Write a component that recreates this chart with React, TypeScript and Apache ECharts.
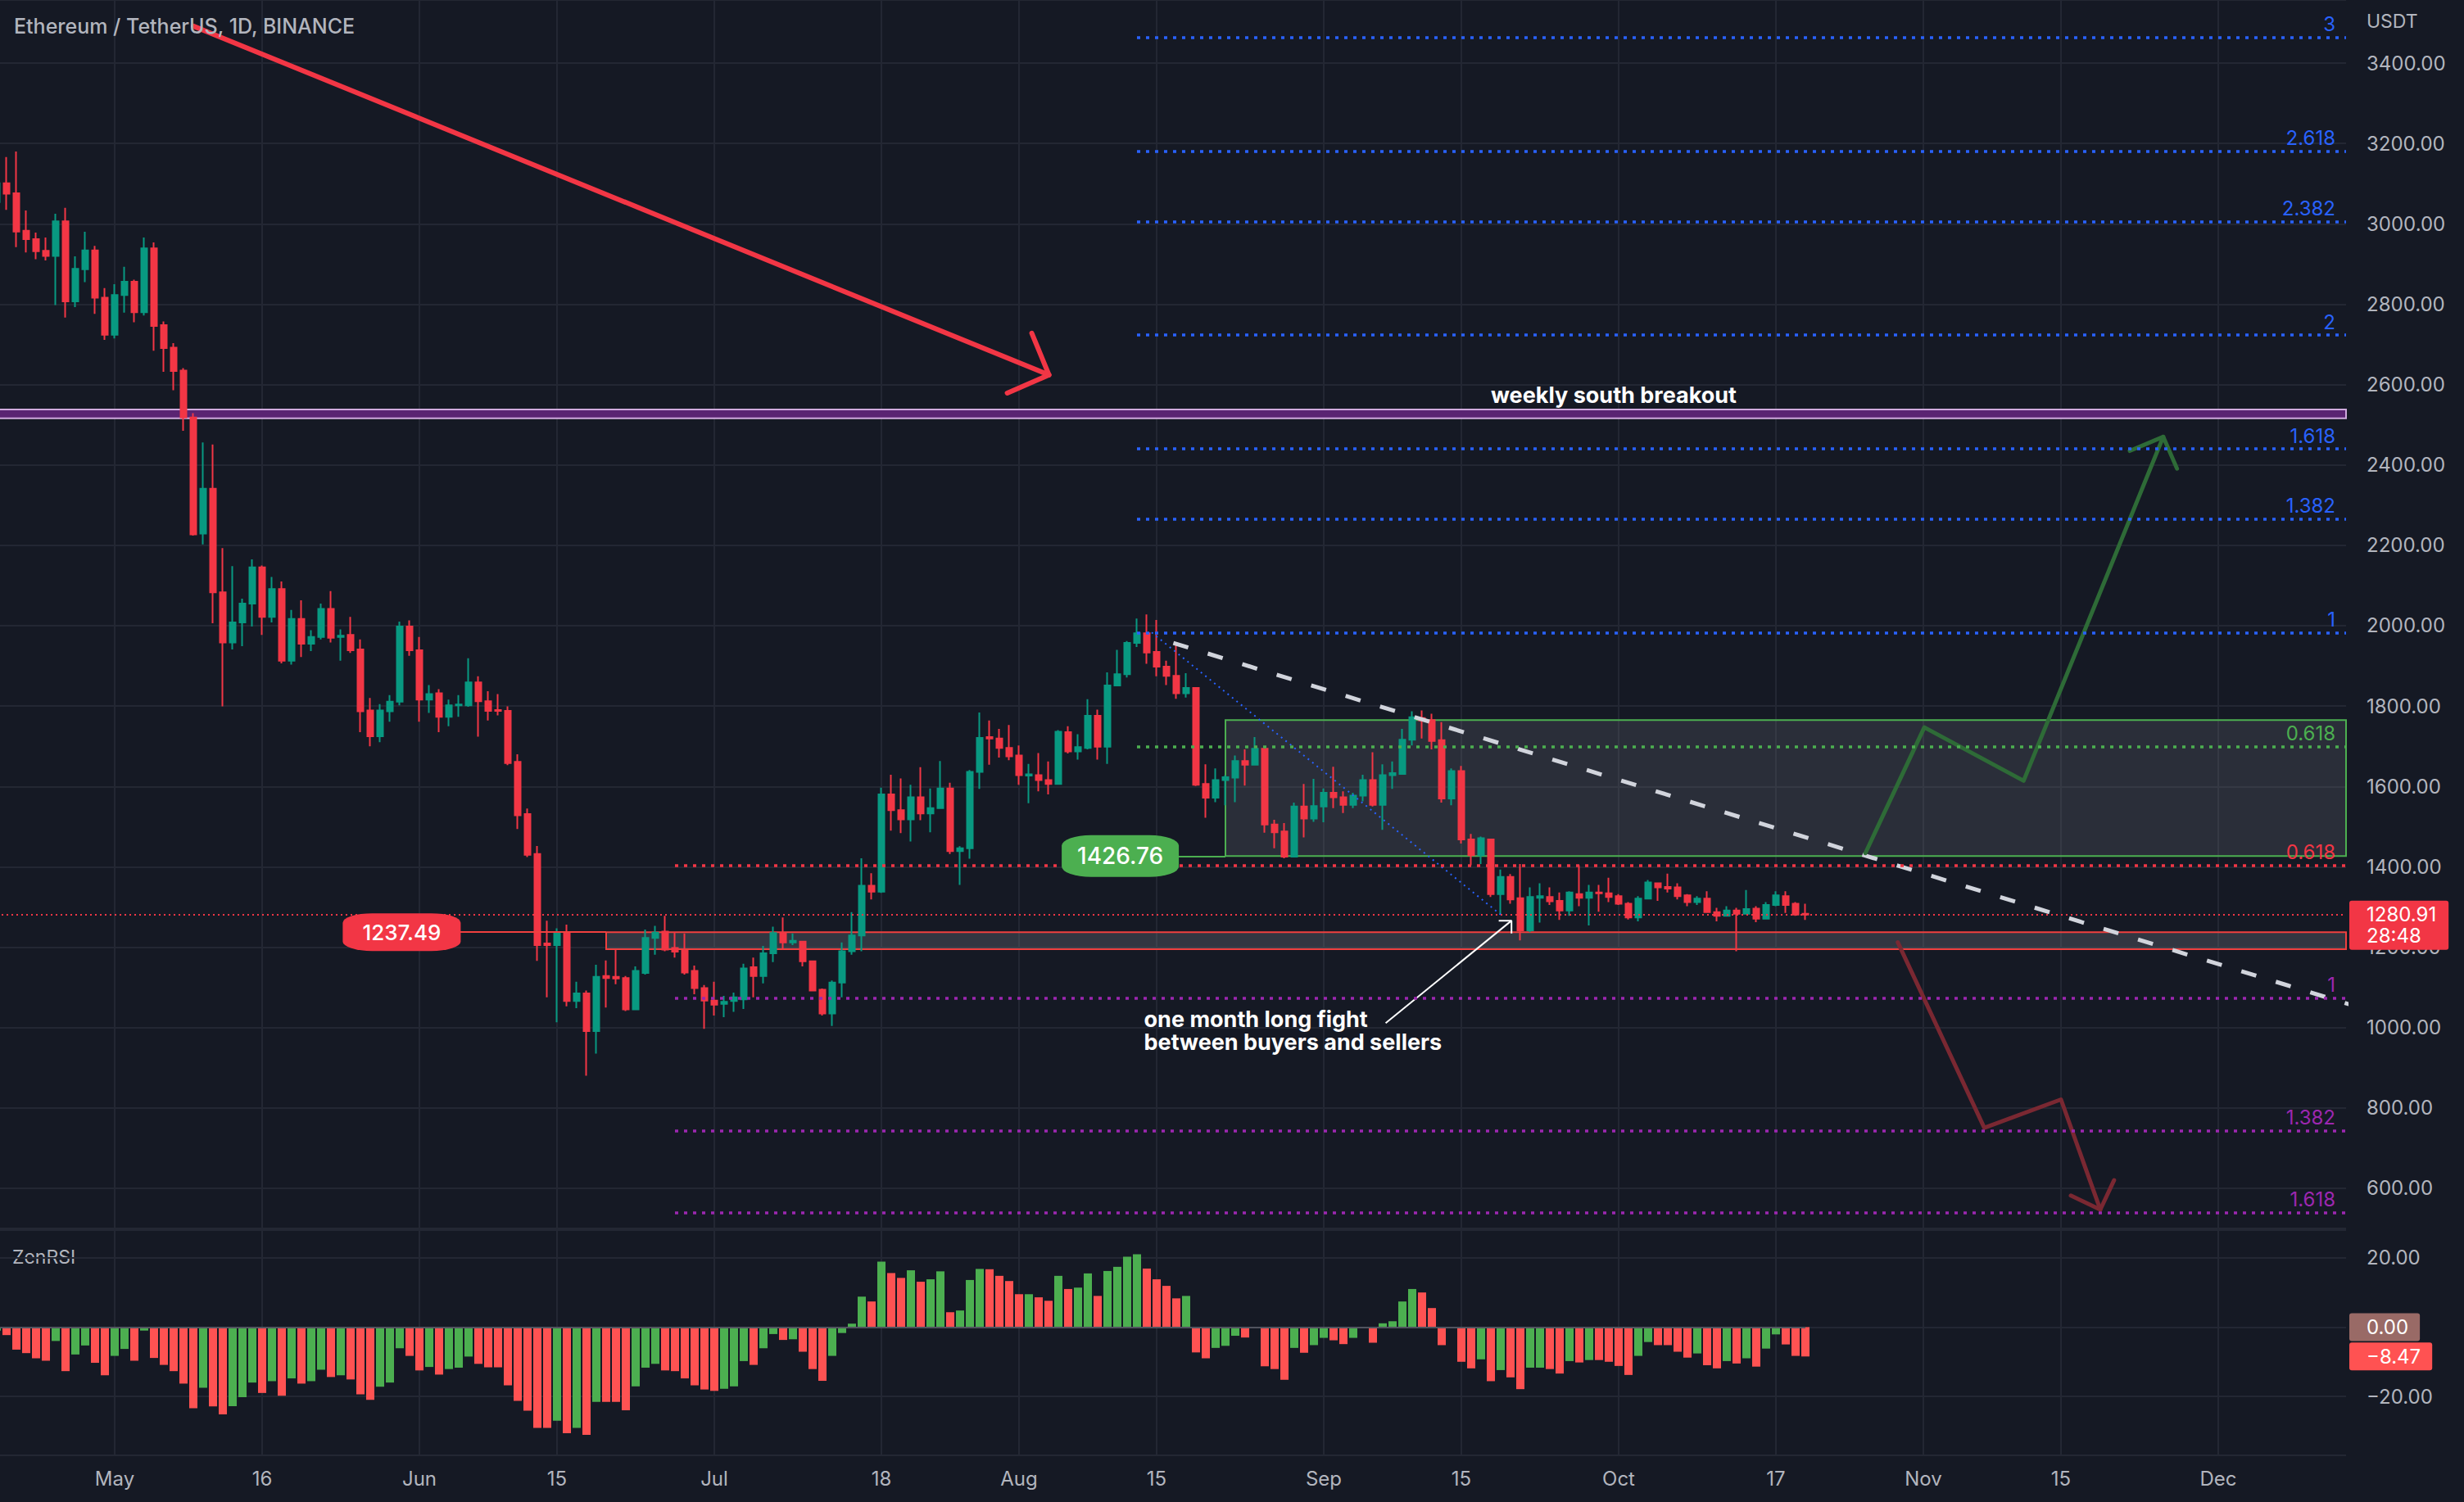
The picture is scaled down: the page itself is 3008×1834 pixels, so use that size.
import React, { useEffect, useRef } from "react";
import * as echarts from "echarts";

// ---------- data ----------
const firstCandleDate = "2022-04-19"; // day -12 relative to May 1
const openP = [
  3054, 3101, 3076, 2983, 2962, 2933, 2920, 3006, 2807, 2887, 2934, 2816,
  2724, 2823, 2856, 2780, 2939, 2748, 2692, 2635, 2518, 2229,
  2341, 2083, 1958, 2008, 2055, 2145, 2022, 2091, 1913, 2017,
  1955, 1972, 2042, 1972, 1977, 1941, 1789, 1725, 1787, 1811,
  1998, 1939, 1816, 1832, 1773, 1802, 1802, 1859, 1812, 1790,
  1788, 1661, 1531, 1432, 1209, 1205, 1235, 1066, 1085, 991,
  1128, 1126, 1123, 1045, 1136, 1223, 1239, 1198, 1191, 1141,
  1098, 1067, 1059, 1066, 1070, 1150, 1128, 1185, 1235, 1212,
  1214, 1165, 1094, 1035, 1112, 1190, 1229, 1353, 1338, 1580,
  1541, 1518, 1573, 1533, 1546, 1595, 1439, 1446, 1636, 1723,
  1719, 1696, 1677, 1627, 1628, 1616, 1606, 1735, 1687, 1696,
  1776, 1699, 1851, 1879, 1957, 1981, 1935, 1898, 1875, 1832,
  1845, 1606, 1572, 1616, 1622, 1663, 1654, 1694, 1505, 1488,
  1425, 1550, 1520, 1550, 1584, 1573, 1554, 1577, 1616, 1554,
  1628, 1631, 1716, 1770, 1765, 1715, 1570, 1638, 1468, 1429,
  1468, 1332, 1375, 1322, 1242, 1323, 1325, 1315, 1291, 1332,
  1323, 1336, 1334, 1327, 1308, 1274, 1321, 1359, 1350, 1349,
  1329, 1312, 1321, 1287, 1278, 1291, 1283, 1296, 1271, 1305,
  1327, 1308, 1283,
];
const closeP = [
  3101, 3075, 2981, 2962, 2932, 2920, 3006, 2807, 2888, 2934, 2816, 2724,
  2823, 2856, 2780, 2939, 2746, 2691, 2634, 2518, 2227, 2341,
  2083, 1958, 2008, 2055, 2145, 2022, 2091, 1913, 2017, 1955,
  1972, 2042, 1970, 1975, 1939, 1787, 1725, 1789, 1811, 1998,
  1939, 1816, 1830, 1773, 1802, 1804, 1859, 1812, 1788, 1788,
  1658, 1528, 1430, 1205, 1205, 1235, 1066, 1085, 991, 1126,
  1123, 1122, 1045, 1141, 1223, 1236, 1194, 1189, 1137, 1098,
  1067, 1057, 1064, 1075, 1147, 1128, 1185, 1235, 1212, 1216,
  1165, 1092, 1035, 1112, 1190, 1229, 1353, 1338, 1580, 1541,
  1518, 1573, 1533, 1546, 1595, 1439, 1446, 1636, 1721, 1719,
  1696, 1675, 1628, 1630, 1616, 1606, 1736, 1687, 1698, 1776,
  1699, 1851, 1879, 1957, 1981, 1933, 1898, 1875, 1832, 1845,
  1604, 1572, 1616, 1623, 1663, 1654, 1694, 1505, 1486, 1425,
  1550, 1520, 1551, 1584, 1573, 1554, 1577, 1616, 1554, 1628,
  1633, 1716, 1772, 1764, 1713, 1570, 1638, 1468, 1429, 1471,
  1332, 1375, 1319, 1242, 1325, 1327, 1314, 1291, 1336, 1323,
  1336, 1334, 1325, 1308, 1274, 1321, 1361, 1349, 1346, 1327,
  1312, 1321, 1287, 1278, 1291, 1283, 1295, 1271, 1305, 1329,
  1305, 1281, 1280.91,
];
const lowP = [
  3040, 3035, 2942, 2929, 2912, 2909, 2798, 2767, 2793, 2855, 2776, 2711,
  2715, 2779, 2755, 2772, 2684, 2632, 2586, 2485, 2224, 2202,
  2006, 1799, 1941, 1949, 1998, 1977, 2008, 1906, 1903, 1922,
  1937, 1966, 1958, 1913, 1932, 1735, 1700, 1710, 1761, 1802,
  1925, 1761, 1783, 1735, 1750, 1773, 1798, 1724, 1764, 1777,
  1653, 1494, 1424, 1166, 1075, 1013, 1053, 1048, 880, 935,
  1050, 1108, 1041, 1044, 1132, 1181, 1190, 1174, 1132, 1083,
  997, 1030, 1026, 1039, 1046, 1075, 1110, 1163, 1194, 1205,
  1152, 1091, 1030, 1004, 1075, 1181, 1190, 1319, 1335, 1490,
  1484, 1463, 1516, 1486, 1545, 1432, 1355, 1420, 1594, 1654,
  1672, 1665, 1604, 1558, 1588, 1580, 1604, 1682, 1667, 1692,
  1667, 1656, 1849, 1871, 1947, 1905, 1874, 1852, 1818, 1821,
  1601, 1522, 1561, 1553, 1561, 1602, 1652, 1485, 1446, 1421,
  1424, 1473, 1512, 1511, 1546, 1534, 1546, 1563, 1550, 1492,
  1594, 1629, 1702, 1719, 1692, 1560, 1553, 1458, 1404, 1407,
  1325, 1281, 1308, 1217, 1237, 1261, 1305, 1268, 1278, 1302,
  1254, 1288, 1312, 1305, 1269, 1264, 1319, 1315, 1336, 1319,
  1302, 1305, 1285, 1264, 1276, 1190, 1281, 1262, 1269, 1302,
  1285, 1278, 1268,
];
const highP = [
  3125, 3166, 3180, 3033, 2978, 2966, 3025, 3040, 2919, 2980, 2945, 2840,
  2850, 2893, 2861, 2966, 2954, 2757, 2703, 2641, 2529, 2456,
  2451, 2193, 2148, 2067, 2165, 2150, 2121, 2110, 2039, 2063,
  1989, 2055, 2086, 1991, 2022, 1966, 1820, 1805, 1827, 2010,
  2013, 1972, 1852, 1842, 1816, 1827, 1919, 1874, 1837, 1830,
  1799, 1680, 1545, 1452, 1266, 1247, 1256, 1114, 1092, 1156,
  1167, 1194, 1128, 1152, 1244, 1253, 1278, 1238, 1234, 1154,
  1106, 1114, 1079, 1087, 1159, 1174, 1203, 1251, 1274, 1234,
  1216, 1167, 1097, 1117, 1212, 1287, 1421, 1384, 1597, 1629,
  1620, 1604, 1648, 1595, 1663, 1609, 1451, 1641, 1784, 1764,
  1743, 1753, 1702, 1656, 1683, 1662, 1740, 1750, 1730, 1817,
  1791, 1884, 1940, 1962, 2018, 2028, 2014, 1913, 1955, 1882,
  1847, 1655, 1645, 1628, 1677, 1692, 1723, 1696, 1517, 1509,
  1560, 1606, 1619, 1595, 1649, 1588, 1584, 1629, 1685, 1655,
  1662, 1743, 1787, 1789, 1781, 1760, 1645, 1651, 1482, 1475,
  1470, 1393, 1382, 1407, 1349, 1359, 1349, 1336, 1339, 1404,
  1355, 1355, 1373, 1332, 1312, 1327, 1367, 1361, 1383, 1359,
  1332, 1327, 1339, 1298, 1302, 1298, 1342, 1302, 1312, 1339,
  1339, 1312, 1308,
];
const zenRsi = [
  -1.0, -2.3, -6.5, -7.5, -9.0, -9.7, -4.0, -12.7, -7.9, -5.3, -10.3, -13.9,
  -8.3, -6.3, -9.7, -1.0, -8.9, -10.9, -12.7, -16.3, -23.4, -17.5,
  -22.9, -25.2, -22.8, -20.2, -16.0, -19.0, -15.6, -19.8, -14.8, -16.3,
  -15.6, -12.3, -14.4, -13.9, -15.1, -19.4, -21.0, -17.2, -16.0, -6.1,
  -8.3, -12.5, -11.5, -13.7, -12.1, -11.7, -8.5, -10.6, -11.6, -11.6,
  -16.8, -21.3, -24.1, -29.1, -29.1, -27.0, -30.6, -29.1, -31.1, -21.6,
  -21.6, -21.6, -24.0, -17.1, -11.7, -10.6, -12.5, -12.7, -14.8, -16.8,
  -18.0, -18.4, -17.8, -17.1, -9.8, -10.9, -6.1, -2.0, -3.7, -3.5,
  -7.1, -12.1, -15.5, -8.3, -1.7, 1.0, 8.8, 7.4, 18.9, 15.6,
  14.2, 16.4, 13.1, 13.8, 16.1, 4.3, 4.8, 13.6, 16.8, 16.7,
  14.8, 13.3, 9.5, 9.5, 8.6, 7.6, 14.8, 11.0, 11.4, 15.5,
  9.0, 16.2, 17.4, 20.3, 21.0, 16.9, 13.8, 11.9, 8.3, 9.0,
  -7.3, -9.0, -6.0, -5.4, -2.5, -3.0, -0.3, -11.3, -12.1, -15.2,
  -6.0, -7.4, -5.2, -3.1, -3.8, -4.9, -3.1, -0.2, -4.5, 1.1,
  1.7, 7.4, 11.0, 10.0, 5.5, -5.2, -0.3, -10.0, -11.9, -9.3,
  -15.6, -12.4, -14.5, -17.9, -11.7, -11.7, -12.1, -13.4, -9.8, -10.2,
  -9.5, -9.5, -10.0, -11.2, -13.8, -8.3, -4.3, -5.2, -5.2, -7.1,
  -8.8, -7.6, -11.0, -11.9, -9.8, -10.5, -9.0, -11.4, -6.2, -2.1,
  -5.0, -8.3, -8.47,
];
const tickDates = [
  "2022-05-01", "2022-05-16", "2022-06-01", "2022-06-15", "2022-07-01",
  "2022-07-18", "2022-08-01", "2022-08-15", "2022-09-01", "2022-09-15",
  "2022-10-01", "2022-10-17", "2022-11-01", "2022-11-15", "2022-12-01",
];
const tickLabels = ["May", "16", "Jun", "15", "Jul", "18", "Aug", "15", "Sep", "15", "Oct", "17", "Nov", "15", "Dec"];
const lastPrice = 1280.91;
const countdown = "28:48";
const lastRsi = -8.47;

// drawing levels (price units), x in days from May 1
const fibUpRatios = ["3", "2.618", "2.382", "2", "1.618", "1.382", "1"];
const fibUpPrices = [3464, 3181, 3006, 2723, 2440, 2265, 1982];
const fibGreenPrice = 1699;
const fibDownRatios = ["0.618", "1", "1.382", "1.618"];
const fibDownPrices = [1404, 1074, 744, 540];
const breakoutBand = [2516, 2538];
const supplyZone = [1426.76, 1765];
const demandZone = [1195, 1237.49];
const bigArrowShaft = [[8.0, 3492], [95.05, 2624]];
const bigArrowHead = [[93.3, 2728], [95.05, 2624], [90.8, 2579]];
const trendLine = [[107.7, 1957], [227.3, 1058]];
const blueDiag = [[105.5, 1983], [141, 1281]];
const noteArrowShaft = [[129.3, 1011], [142.1, 1266]];
const noteArrowHead = [[140.8, 1266], [142.1, 1266], [142.1, 1234]];
const bullPath = [[178.1, 1434], [184.1, 1747], [194.2, 1614], [208.4, 2470]];
const bullHead = [[205, 2435], [208.4, 2470], [209.8, 2391]];
const bearPath = [[181.4, 1212], [190.2, 750.5], [198, 821], [202, 547]];
const bearHead = [[199, 582], [202, 547], [203.4, 620]];

// ---------- helpers ----------
const DAY = 86400000;
const baseTime = Date.UTC(2022, 3, 19);
const mayFirst = Date.UTC(2022, 4, 1);
const axisCount = 240;
const categories = Array.from({ length: axisCount }, (_, i) =>
  new Date(baseTime + i * DAY).toISOString().slice(0, 10)
);
const xMin = (baseTime - mayFirst) / DAY;
const xMax = xMin + axisCount - 1;
const tickMap = new Map(tickDates.map((d, i) => [d, tickLabels[i]]));
const isTick = (_i: number, v: string) => tickMap.has(v);

const BG = "#151924";
const GRID = "#232733";
const TXT = "#b2b5be";
const UP = "#089981";
const DOWN = "#f23645";
const FONT = "Inter, Roboto, sans-serif";
const BLUE = "#2962ff";
const PURPLE = "#9c27b0";
const GREEN = "#4caf50";
const CLEAR = "rgba(0,0,0,0)";

const fmt = (v: number) => (v < 0 ? "\u2212" : "") + Math.abs(v).toFixed(2);

const poly = (pts: number[][], style: any, z = 4) => ({
  type: "line",
  xAxisIndex: 1,
  yAxisIndex: 0,
  data: pts,
  symbol: "none",
  showSymbol: false,
  silent: true,
  z,
  lineStyle: style,
  emphasis: { disabled: true },
});

const fibLine = (x0: number, p: number, label: string, color: string) => [
  {
    coord: [x0, p],
    lineStyle: { color, type: [4, 7], width: 3.5, opacity: 1 },
    label: {
      show: true,
      position: "insideEndTop",
      formatter: label,
      color,
      fontSize: 24,
      fontFamily: FONT,
      distance: [13, 4],
    },
  },
  { coord: [xMax, p] },
];

const axisTag = (value: number, text: string, bg: string) => ({
  yAxis: value,
  lineStyle: { color: CLEAR, width: 0 },
  label: {
    show: true, position: "end", formatter: text, backgroundColor: bg,
    color: "#ffffff", fontSize: 24, lineHeight: 24, padding: [5, 14, 5, 21],
    distance: 4, fontFamily: FONT, borderRadius: 3,
  },
});

export default function App() {
  const ref = useRef<HTMLDivElement>(null);
  useEffect(() => {
    document.body.style.margin = "0";
    document.body.style.background = BG;
    const chart = echarts.init(ref.current!, null, { renderer: "svg" });

    const candleData = openP.map((o, i) => [o, closeP[i], lowP[i], highP[i]]);
    const rsiData = zenRsi.map((v, i) => ({
      value: v,
      itemStyle: { color: closeP[i] >= openP[i] ? GREEN : "#ff5252" },
    }));
    const lastCat = categories[openP.length - 1];

    const option: any = {
      backgroundColor: BG,
      animation: false,
      title: {
        text: "Ethereum / TetherUS, 1D, BINANCE",
        left: 17,
        top: 19,
        padding: 0,
        textStyle: { color: TXT, fontSize: 25, fontWeight: 500, fontFamily: FONT },
      },
      graphic: [
        { type: "text", left: 15, top: 1523, style: { text: "ZenRSI", fill: TXT, fontSize: 23, fontFamily: FONT } },
        { type: "text", left: 2889, top: 14, style: { text: "USDT", fill: TXT, fontSize: 23, fontFamily: FONT } },
      ],
      grid: [
        { left: -4, top: 0, width: 2868, height: 1500, outerBoundsMode: "none" },
        { left: -4, top: 1502, width: 2868, height: 275, outerBoundsMode: "none" },
      ],
      xAxis: [
        {
          type: "category", gridIndex: 0, data: categories, boundaryGap: false,
          axisLine: { show: false }, axisTick: { show: false }, axisLabel: { show: false },
          splitLine: { show: true, interval: isTick, lineStyle: { color: GRID, width: 2 } },
        },
        { type: "value", gridIndex: 0, min: xMin, max: xMax, show: false },
        {
          type: "category", gridIndex: 1, data: categories, boundaryGap: false,
          axisLine: { show: false }, axisTick: { show: false },
          axisLabel: {
            interval: isTick,
            formatter: (v: string) => tickMap.get(v) ?? "",
            color: TXT, fontSize: 24, margin: 16, fontFamily: FONT,
          },
          splitLine: { show: true, interval: isTick, lineStyle: { color: GRID, width: 2 } },
        },
      ],
      yAxis: [
        {
          type: "value", gridIndex: 0, position: "right", min: 500, max: 3557,
          splitNumber: 15, minInterval: 200, maxInterval: 200,
          axisLine: { show: false }, axisTick: { show: false },
          axisLabel: {
            align: "left", margin: 25, color: TXT, fontSize: 24, fontFamily: FONT,
            formatter: fmt, showMinLabel: false, showMaxLabel: false,
          },
          splitLine: { show: true, lineStyle: { color: GRID, width: 2 } },
        },
        {
          type: "value", gridIndex: 1, position: "right", min: -37, max: 28,
          splitNumber: 3, minInterval: 20, maxInterval: 20,
          axisLine: { show: false }, axisTick: { show: false },
          axisLabel: {
            align: "left", margin: 25, color: TXT, fontSize: 24, fontFamily: FONT,
            formatter: fmt, showMinLabel: false, showMaxLabel: false,
          },
          splitLine: { show: true, lineStyle: { color: GRID, width: 2 } },
        },
      ],
      series: [
        {
          type: "line", xAxisIndex: 1, yAxisIndex: 0, data: [[xMin - 50, 0]],
          symbol: "none", lineStyle: { opacity: 0 }, silent: true, z: 1,
          markArea: {
            silent: true,
            data: [
              [
                { yAxis: breakoutBand[0], itemStyle: { color: "#5a2472", borderColor: "#cfa9dd", borderWidth: 2 } },
                { yAxis: breakoutBand[1] },
              ],
              [
                { coord: [113, supplyZone[0]], itemStyle: { color: "rgba(120,123,134,0.22)", borderColor: GREEN, borderWidth: 2 } },
                { coord: [xMax, supplyZone[1]] },
              ],
              [
                { coord: [50, demandZone[0]], itemStyle: { color: "rgba(120,123,134,0.3)", borderColor: "#f0403f", borderWidth: 2 } },
                { coord: [xMax, demandZone[1]] },
              ],
            ],
          },
        },
        {
          type: "candlestick", xAxisIndex: 0, yAxisIndex: 0, data: candleData,
          barWidth: 8, z: 2, silent: true,
          itemStyle: { color: UP, color0: DOWN, borderColor: UP, borderColor0: DOWN, borderWidth: 2 },
        },
        poly(bigArrowShaft, { color: "#f23645", width: 6, cap: "round" }),
        poly(bigArrowHead, { color: "#f23645", width: 6, cap: "round", join: "round" }),
        poly(trendLine, { color: "#d1d4dc", width: 5, type: [19, 25] }),
        poly(blueDiag, { color: BLUE, width: 2, type: [2, 5] }),
        poly(noteArrowShaft, { color: "#ffffff", width: 2 }),
        poly(noteArrowHead, { color: "#ffffff", width: 2 }),
        poly(bullPath, { color: "#2e6b37", width: 5, join: "round", cap: "round" }),
        poly(bullHead, { color: "#2e6b37", width: 5, join: "round", cap: "round" }),
        poly(bearPath, { color: "#7a2832", width: 5, join: "round", cap: "round" }),
        poly(bearHead, { color: "#7a2832", width: 5, join: "round", cap: "round" }),
        {
          type: "line", xAxisIndex: 1, yAxisIndex: 0, data: [[xMin - 50, 0]],
          symbol: "none", lineStyle: { opacity: 0 }, silent: true, z: 5,
          markLine: {
            silent: true,
            symbol: ["none", "none"],
            label: { show: false },
            emphasis: { disabled: true },
            data: [
              ...fibUpPrices.map((p, i) => fibLine(104, p, fibUpRatios[i], BLUE)),
              fibLine(104, fibGreenPrice, "0.618", GREEN),
              ...fibDownPrices.map((p, i) => fibLine(57, p, fibDownRatios[i], i === 0 ? "#f23645" : PURPLE)),
              [
                { coord: [29, demandZone[1]], lineStyle: { color: "#f0403f", width: 2, type: "solid" } },
                { coord: [50, demandZone[1]] },
              ],
              [
                { coord: [102, supplyZone[0]], lineStyle: { color: GREEN, width: 2, type: "solid" } },
                { coord: [113, supplyZone[0]] },
              ],
              {
                yAxis: lastPrice,
                lineStyle: { color: "#f23645", type: [2, 4], width: 2 },
                label: {
                  show: true, position: "end", formatter: lastPrice.toFixed(2) + "\n" + countdown,
                  backgroundColor: "#f23645", color: "#ffffff", fontSize: 24, lineHeight: 26,
                  padding: [4, 15, 4, 21], distance: 4, offset: [0, 13], fontFamily: FONT, borderRadius: 3,
                },
              },
            ],
          },
          markPoint: {
            silent: true,
            data: [
              {
                coord: [102.3, supplyZone[0]], symbol: "roundRect", symbolSize: [143, 51],
                itemStyle: { color: GREEN },
                label: { show: true, position: "inside", formatter: "1426.76", color: "#fff", fontSize: 28, fontWeight: 500, fontFamily: FONT },
              },
              {
                coord: [29.2, demandZone[1]], symbol: "roundRect", symbolSize: [144, 46],
                itemStyle: { color: "#f23645" },
                label: { show: true, position: "inside", formatter: "1237.49", color: "#fff", fontSize: 26, fontWeight: 500, fontFamily: FONT },
              },
              {
                coord: [152.5, 2573], symbol: "rect", symbolSize: 1,
                itemStyle: { color: CLEAR },
                label: { show: true, position: "inside", formatter: "weekly south breakout", color: "#fff", fontSize: 27, fontWeight: "bold", fontFamily: FONT },
              },
              {
                coord: [104.67, 992], symbol: "rect", symbolSize: 1,
                itemStyle: { color: CLEAR },
                label: {
                  show: true, position: "right", distance: 0, align: "left",
                  formatter: "one month long fight\nbetween buyers and sellers",
                  color: "#fff", fontSize: 27, lineHeight: 28, fontWeight: "bold", fontFamily: FONT,
                },
              },
            ],
          },
        },
        {
          type: "bar", xAxisIndex: 2, yAxisIndex: 1, data: rsiData, barWidth: 10, silent: true,
          markLine: {
            silent: true,
            symbol: ["none", "none"],
            label: { show: false },
            emphasis: { disabled: true },
            data: [
              [
                { coord: [categories[0], 0], lineStyle: { color: "#51545f", width: 2, type: "solid" } },
                { coord: [lastCat, 0] },
              ],
              axisTag(0, "0.00", "#996a66"),
              axisTag(lastRsi, fmt(lastRsi), "#ff5252"),
            ],
          },
        },
      ],
    };
    chart.setOption(option);
    return () => chart.dispose();
  }, []);
  return <div ref={ref} style={{ width: 3008, height: 1834 }} />;
}
